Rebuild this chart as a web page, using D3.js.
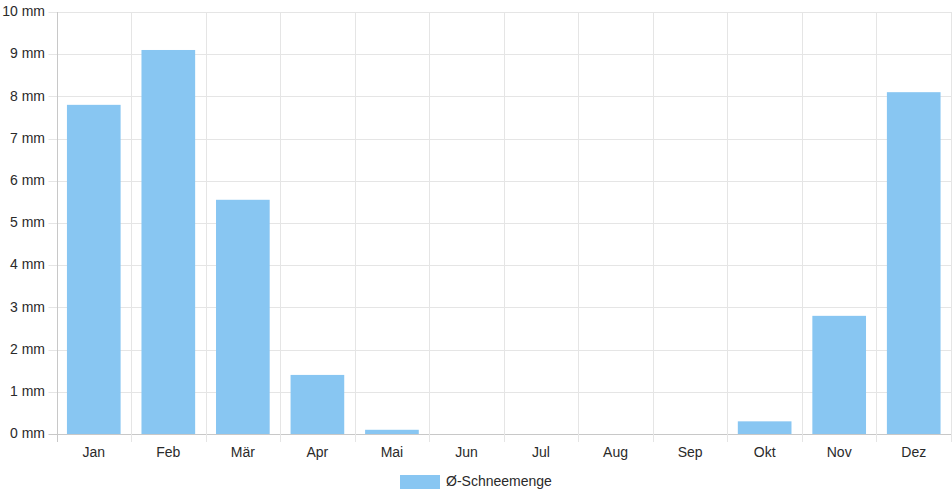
<!DOCTYPE html>
<html><head><meta charset="utf-8">
<script src="https://cdn.jsdelivr.net/npm/d3@7"></script>
<style>body{margin:0;background:#fff}svg{display:block}text{font-family:"Liberation Sans",Arial,Helvetica,sans-serif;fill:#2a2a2a}</style>
</head><body>
<svg id="c" width="952" height="500"></svg>
<script>
const categories = ["Jan","Feb","Mär","Apr","Mai","Jun","Jul","Aug","Sep","Okt","Nov","Dez"];
const values = [7.8, 9.1, 5.55, 1.4, 0.1, 0, 0, 0, 0, 0.3, 2.8, 8.1];
const yTicks = [0,1,2,3,4,5,6,7,8,9,10];
const seriesName = "Ø-Schneemenge";

const svg = d3.select("#c");
const L = 56.5, R = 951, T = 12, B = 434;
const x = d3.scaleBand().domain(categories).range([L, R]).paddingInner(0).paddingOuter(0);
const y = d3.scaleLinear().domain([0, 10]).range([B, T]);
const grid = "#e5e5e5";

// horizontal grid
svg.append("g").selectAll("line").data(yTicks).join("line")
  .attr("x1", L - 8).attr("x2", R)
  .attr("y1", d => Math.round(y(d)) + 0.5).attr("y2", d => Math.round(y(d)) + 0.5)
  .attr("stroke", d => d === 0 ? "#c8c8c8" : grid).attr("stroke-width", 1);

// vertical grid at category boundaries
const bounds = categories.map(c => x(c)).concat([R]);
svg.append("g").selectAll("line").data(bounds).join("line")
  .attr("x1", d => Math.round(d) + 0.5).attr("x2", d => Math.round(d) + 0.5)
  .attr("y1", T).attr("y2", B + 8)
  .attr("stroke", (d, i) => i === 0 ? "#c8c8c8" : grid);

// bars
const bw = x.bandwidth() * 0.72;
svg.append("g").selectAll("rect").data(values).join("rect")
  .attr("x", (d, i) => x(categories[i]) + (x.bandwidth() - bw) / 2)
  .attr("width", bw)
  .attr("y", d => y(d))
  .attr("height", d => B - y(d))
  .attr("fill", "#88c6f2");

// y labels
svg.append("g").selectAll("text").data(yTicks).join("text")
  .attr("x", 45).attr("y", d => y(d) + 0.5)
  .attr("text-anchor", "end").attr("dominant-baseline", "middle")
  .style("font-size", "14px").text(d => d + " mm");

// x labels
svg.append("g").selectAll("text").data(categories).join("text")
  .attr("x", d => x(d) + x.bandwidth() / 2).attr("y", 453)
  .attr("text-anchor", "middle").attr("dominant-baseline", "middle")
  .style("font-size", "14px").text(d => d);

// legend
const lg = svg.append("g");
lg.append("rect").attr("x", 400).attr("y", 475).attr("width", 40).attr("height", 14).attr("fill", "#88c6f2");
lg.append("text").attr("x", 446).attr("y", 482).attr("dominant-baseline", "middle")
  .style("font-size", "14px").text(seriesName);
</script>
</body></html>
